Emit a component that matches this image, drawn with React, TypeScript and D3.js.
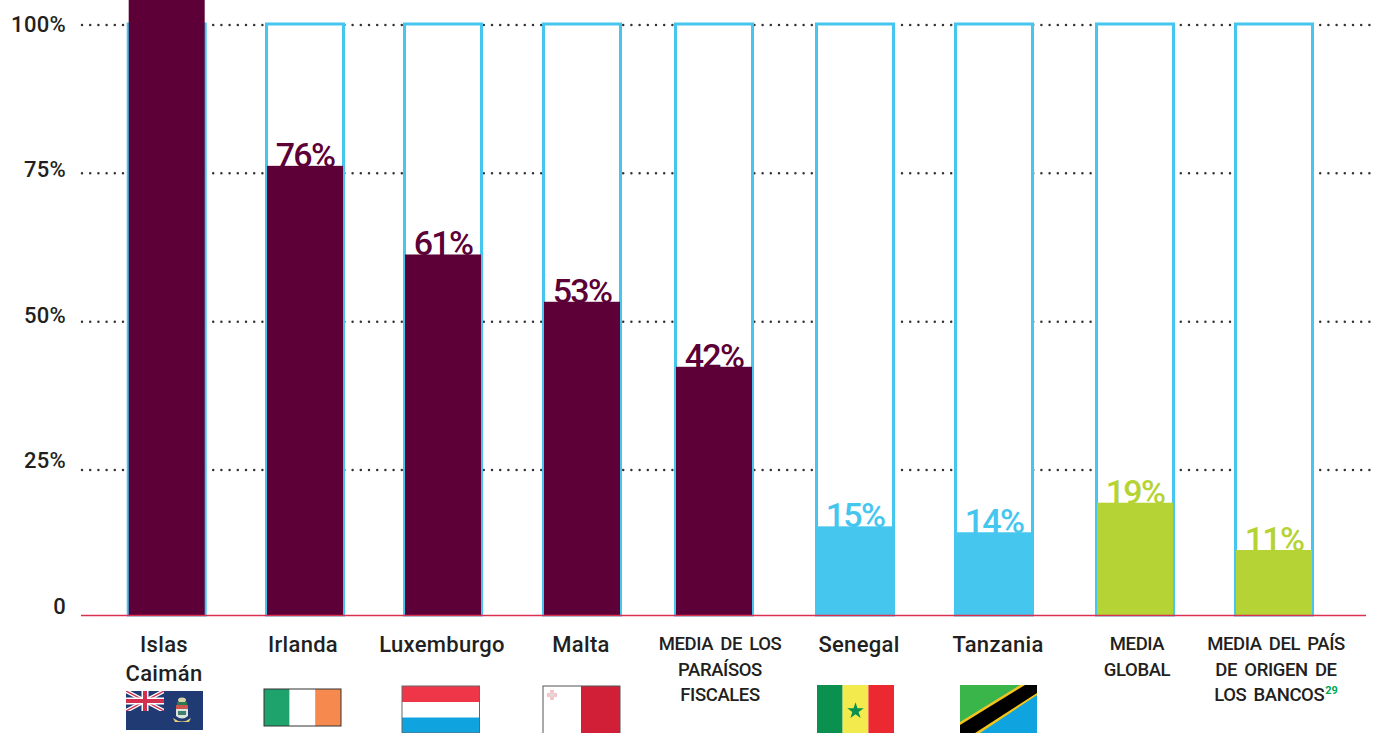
import React from 'react';
import * as d3 from 'd3';

const categories = ['cayman', 'ireland', 'luxembourg', 'malta', 'havens', 'senegal', 'tanzania', 'global', 'home'];
const values = [105, 76, 61, 53, 42, 15, 14, 19, 11];
const groups = ['haven', 'haven', 'haven', 'haven', 'haven', 'poor', 'poor', 'mean', 'mean'];
const labels = [
  ['Islas', 'Caimán'],
  ['Irlanda'],
  ['Luxemburgo'],
  ['Malta'],
  ['MEDIA DE LOS', 'PARAÍSOS', 'FISCALES'],
  ['Senegal'],
  ['Tanzania'],
  ['MEDIA', 'GLOBAL'],
  ['MEDIA DEL PAÍS', 'DE ORIGEN DE', 'LOS BANCOS'],
];
const ticks = [0, 25, 50, 75, 100];
const gridTicks = [25, 50, 75, 100];

const width = 1377;
const height = 733;
const ink = '#231f20';
const blue = '#45c6ef';
const font = 'Roboto, sans-serif';

const y = d3.scaleLinear().domain([0, 100]).range([615, 24]);
const yGrid = d3.scaleLinear().domain([25, 100]).range([470, 25]);
const yTick = d3.scaleLinear().domain([0, 100]).range([606, 24]);
// the bars are not evenly spaced in the original, the labels are
const xBar = d3.scaleOrdinal<string, number>().domain(categories)
  .range([166.7, 305, 443, 582, 714, 855, 994, 1135, 1274]);
const xLabel = d3.scalePoint().domain(categories).range([164, 1276]);
const fill = d3.scaleOrdinal<string, string>().domain(['haven', 'poor', 'mean'])
  .range(['#5c0037', blue, '#b5d334']);

const Flag = ({ x, y, w, h, children, border }: any) => (
  <g transform={`translate(${x},${y})`}>
    {children}
    {border && <rect x={0} y={0} width={w} height={h} fill="none" stroke={border} strokeWidth={1} />}
  </g>
);

const Flags = () => (
  <g>
    <defs>
      <clipPath id="jack"><rect x={0} y={0} width={38} height={20} /></clipPath>
    </defs>
    {/* Islas Caimán */}
    <Flag x={126} y={691} w={77} h={39}>
      <rect width={77} height={39} fill="#203a74" />
      <g clipPath="url(#jack)">
        <path d="M0,0L38,20M38,0L0,20" stroke="#fff" strokeWidth={4} />
        <path d="M0,0L38,20M38,0L0,20" stroke="#d3304f" strokeWidth={1.4} />
        <path d="M19,0V20M0,10H38" stroke="#fff" strokeWidth={7} />
        <path d="M19,0V20M0,10H38" stroke="#d3304f" strokeWidth={4} />
      </g>
      <ellipse cx={56} cy={9} rx={4} ry={2.5} fill="#d9d3a8" />
      <rect x={51} y={11} width={10} height={3} fill="#2c7a52" />
      <rect x={50} y={14} width={12} height={4} fill="#c9574f" />
      <path d="M50,18H62V25Q56,30 50,25Z" fill="#dfe3dc" />
      <path d="M52,20H60V24H52Z" fill="#3f7f72" />
      <path d="M47,27Q56,34 65,27L63,31H49Z" fill="#e6cf7a" />
    </Flag>
    {/* Irlanda */}
    <Flag x={264} y={689} w={77} h={37} border="#333">
      <rect width={25.6} height={37} fill="#1fa36c" />
      <rect x={25.6} width={25.6} height={37} fill="#fff" />
      <rect x={51.2} width={25.8} height={37} fill="#f68a4e" />
    </Flag>
    {/* Luxemburgo */}
    <Flag x={402} y={686} w={77.5} h={47} border="#666">
      <rect width={77.5} height={16} fill="#ef3648" />
      <rect y={16} width={77.5} height={15.5} fill="#fff" />
      <rect y={31.5} width={77.5} height={15.5} fill="#0fa3df" />
    </Flag>
    {/* Malta */}
    <Flag x={543} y={686} w={77} h={48} border="#555">
      <rect width={38} height={48} fill="#fff" />
      <rect x={38} width={39} height={48} fill="#d21f38" />
      <path d="M9,4V14M4,9H14" stroke="#f4c4ca" strokeWidth={4} />
      <circle cx={9} cy={9} r={2} fill="#ddd" />
    </Flag>
    {/* Senegal */}
    <Flag x={817} y={685} w={77} h={48}>
      <rect width={25.6} height={48} fill="#0b914f" />
      <rect x={25.6} width={25.8} height={48} fill="#f3ea4e" />
      <rect x={51.4} width={25.6} height={48} fill="#ec2830" />
      <path d={d3.symbol(d3.symbolStar, 85)() as string} transform="translate(38.5,26)" fill="#0b914f" />
    </Flag>
    {/* Tanzania */}
    <Flag x={960} y={685} w={77} h={48}>
      <rect width={77} height={48} fill="#0fa3df" />
      <path d="M0,0H60L0,37Z" fill="#39b54a" />
      <path d="M0,37L60,0H77V10L20,48H0Z" fill="#f5c518" />
      <path d="M0,40L65,0H77V8L15,48H0Z" fill="#000" />
    </Flag>
  </g>
);

export default function App() {
  return (
    <svg width={width} height={height} style={{ position: 'absolute', left: 0, top: 0, display: 'block', background: '#fff' }}>
      {/* dotted grid, the white bars hide it where they cross */}
      {gridTicks.map((t) => (
        <line key={t} x1={82} x2={1370} y1={yGrid(t)} y2={yGrid(t)} stroke="#333" strokeWidth={2.5}
          strokeLinecap="round" strokeDasharray="0 8.2" />
      ))}

      {/* tick labels */}
      {ticks.map((t) => (
        <text key={t} x={66} y={yTick(t)} dy="0.36em" textAnchor="end" fontFamily={font} fontWeight={500}
          fontSize={22} letterSpacing={0.3} fill={ink}>
          {t === 0 ? '0' : `${t}%`}
        </text>
      ))}

      {/* outlined 100% columns */}
      {categories.map((c) => (
        <rect key={c} x={xBar(c) - 38.5} y={y(100)} width={77} height={y(0) - y(100)}
          fill="#fff" stroke={blue} strokeWidth={3} />
      ))}

      {/* value labels sit behind the fill so it trims their feet; the first one runs off the page */}
      {categories.map((c, i) => values[i] <= 100 && (
        <text key={c} x={xBar(c)} y={y(values[i]) + 1} textAnchor="middle" fontFamily={font} fontWeight={500}
          fontSize={34} letterSpacing={-1.8} fill={fill(groups[i])}>
          {values[i]}%
        </text>
      ))}

      {categories.map((c, i) => (
        <rect key={c} x={xBar(c) - 38} y={y(values[i])} width={76} height={y(0) - y(values[i])}
          fill={fill(groups[i])} />
      ))}

      <line x1={81} x2={1366} y1={615.5} y2={615.5} stroke="#d9304f" strokeWidth={1.5} />

      {/* category labels */}
      {categories.map((c, i) => {
        const upper = labels[i][0] === labels[i][0].toUpperCase();
        return (
          <text key={c} textAnchor="middle" fontFamily={font} fontWeight={500} fill={ink}
            fontSize={upper ? 18.5 : 22} letterSpacing={upper ? -0.4 : 0.3} wordSpacing={upper ? 3 : 0}>
            {labels[i].map((line, j) => (
              <tspan key={j} x={xLabel(c)} y={(upper ? 650 : 652) + j * (upper ? 25.5 : 29)}>{line}</tspan>
            ))}
            {c === 'home' && <tspan dx={1} dy={-7} fontSize={11} fontWeight={700} letterSpacing={0} fill="#00a651">29</tspan>}
          </text>
        );
      })}

      <Flags />
    </svg>
  );
}
